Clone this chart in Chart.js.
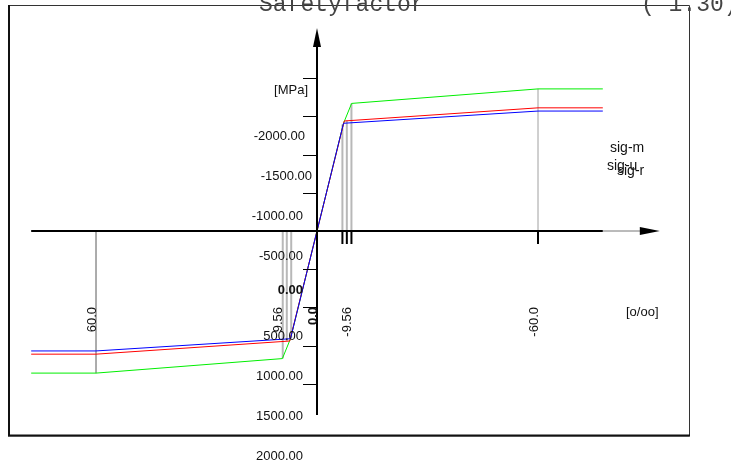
<!DOCTYPE html>
<html>
<head>
<meta charset="utf-8">
<script src="https://cdn.jsdelivr.net/npm/chart.js@4/dist/chart.umd.min.js"></script>
<style>
  html, body { margin: 0; padding: 0; background: #fff; }
  #c { display: block; }
</style>
</head>
<body>
<canvas id="c" width="731" height="466"></canvas>
<script>
// strain [o/oo] / stress [MPa]
var strain_blue = [-77.6, -60, -7.2, 0, 7.2, 60, 77.6];
var stress_blue = [-1570, -1570, -1410, 0, 1410, 1570, 1570];

var strain_red = [-77.6, -60, -7.4, 0, 7.4, 60, 77.6];
var stress_red = [-1612, -1612, -1440, 0, 1440, 1612, 1612];

var strain_green = [-77.6, -60, -9.4, -7.2, 0, 7.2, 9.4, 60, 77.6];
var stress_green = [-1860, -1860, -1670, -1410, 0, 1410, 1670, 1860, 1860];

// vertical helper lines at the knees and at +-60
var knee_strain = [-9.3, -8.2, -7.0, 6.9, 8.1, 9.35];
var knee_stress = [-1670, -1440, -1410, 1395, 1445, 1670];
var limit_strain = [-60, 60];
var limit_stress = [-1860, 1860];
var tick_down_strain = [6.9, 8.1, 9.35, 60];

var y_ticks = [-2000, -1500, -1000, -500, 500, 1000, 1500, 2000];
var y_labels = ['-2000.00', '-1500.00', '-1000.00', '-500.00', '0.00', '500.00', '1000.00', '1500.00', '2000.00'];
var x_label_strain = [-60, -9.3, 0, 9.35, 60];
var x_labels = ['60.0', '9.56', '0.0', '-9.56', '-60.0'];
var legend_names = ['sig-m', 'sig-u', 'sig-r'];

var W = 731, H = 466;
var ORIGIN_X = 317, ORIGIN_Y = 231;
var PX_PER_STRAIN = 221 / 60;
var PX_PER_MPA = 38.2 / 500;

function pts(xs, ys) {
  var out = [];
  for (var i = 0; i < xs.length; i++) out.push({x: xs[i], y: ys[i]});
  return out;
}

function curve(label, xs, ys, color) {
  return {
    label: label,
    data: pts(xs, ys),
    showLine: true,
    borderColor: color,
    borderWidth: 1,
    pointRadius: 0,
    fill: false
  };
}

var datasets = [
  curve('sig-r', strain_blue, stress_blue, '#0000ff'),
  curve('sig-u', strain_red, stress_red, '#ff0000'),
  curve('sig-m', strain_green, stress_green, '#00ee00')
];
for (var i = 0; i < knee_strain.length; i++) {
  datasets.push({
    data: pts([knee_strain[i], knee_strain[i]], [0, knee_stress[i]]),
    showLine: true, borderColor: '#b8b8b8', borderWidth: 2, pointRadius: 0
  });
}
for (var i = 0; i < limit_strain.length; i++) {
  datasets.push({
    data: pts([limit_strain[i], limit_strain[i]], [0, limit_stress[i]]),
    showLine: true, borderColor: '#a0a0a0', borderWidth: 1, pointRadius: 0
  });
}

var decor = {
  id: 'decor',
  afterDatasetsDraw: function(chart) {
    var ctx = chart.ctx;
    var xs = chart.scales.x, ys = chart.scales.y;
    var ox = xs.getPixelForValue(0), oy = ys.getPixelForValue(0);
    ctx.save();

    // frame
    ctx.strokeStyle = '#333';
    ctx.lineWidth = 1;
    ctx.beginPath();
    ctx.moveTo(8, 5.5); ctx.lineTo(689.5, 5.5); ctx.lineTo(689.5, 436); ctx.lineTo(8, 436);
    ctx.stroke();
    ctx.strokeStyle = '#111';
    ctx.lineWidth = 2;
    ctx.beginPath(); ctx.moveTo(9, 5); ctx.lineTo(9, 436); ctx.stroke();
    ctx.beginPath(); ctx.moveTo(8, 435.5); ctx.lineTo(690, 435.5); ctx.stroke();

    // title
    ctx.fillStyle = '#444';
    ctx.font = '23px "Liberation Mono", "DejaVu Sans Mono", monospace';
    ctx.textBaseline = 'alphabetic';
    ctx.textAlign = 'left';
    ctx.fillText('Safetyfactor', 259, 11);
    ctx.fillText('( 1.30)', 641, 11);

    // x axis
    var xl = xs.getPixelForValue(strain_blue[0]);
    var xr = xs.getPixelForValue(strain_blue[strain_blue.length - 1]);
    ctx.strokeStyle = '#000';
    ctx.lineWidth = 2;
    ctx.beginPath(); ctx.moveTo(xl, oy); ctx.lineTo(xr, oy); ctx.stroke();
    ctx.strokeStyle = '#777';
    ctx.lineWidth = 1;
    ctx.beginPath(); ctx.moveTo(xr, oy); ctx.lineTo(xr + 40, oy); ctx.stroke();
    ctx.fillStyle = '#000';
    ctx.beginPath();
    ctx.moveTo(xr + 37, oy - 4); ctx.lineTo(xr + 57, oy); ctx.lineTo(xr + 37, oy + 4);
    ctx.closePath(); ctx.fill();

    // ticks below the x axis
    ctx.strokeStyle = '#000';
    ctx.lineWidth = 2;
    tick_down_strain.forEach(function(v) {
      var px = xs.getPixelForValue(v);
      ctx.beginPath(); ctx.moveTo(px, oy); ctx.lineTo(px, oy + 13); ctx.stroke();
    });

    // y axis
    ctx.lineWidth = 2;
    ctx.beginPath(); ctx.moveTo(ox, 415); ctx.lineTo(ox, 44); ctx.stroke();
    ctx.beginPath();
    ctx.moveTo(ox - 4, 47); ctx.lineTo(ox, 28); ctx.lineTo(ox + 4, 47);
    ctx.closePath(); ctx.fill();
    ctx.lineWidth = 1;
    y_ticks.forEach(function(v) {
      var py = Math.round(ys.getPixelForValue(v)) + 0.5;
      ctx.beginPath(); ctx.moveTo(ox - 14, py); ctx.lineTo(ox, py); ctx.stroke();
    });

    // y labels
    ctx.fillStyle = '#111';
    ctx.textAlign = 'right';
    ctx.textBaseline = 'middle';
    ctx.font = '13px "Liberation Sans", Arial, sans-serif';
    ctx.fillText('[MPa]', ox - 9, oy - 141);
    y_labels.forEach(function(t, i) {
      var py = oy - 94.3 + i * 40;
      var px = ox - 14;
      if (i === 0) px = ox - 12;
      if (i === 1) px = ox - 5;
      if (t === '0.00') {
        ctx.font = 'bold 13px "Liberation Sans", Arial, sans-serif';
        py -= 6;
      } else {
        ctx.font = '13px "Liberation Sans", Arial, sans-serif';
      }
      ctx.fillText(t, px, py);
    });

    // rotated x labels
    x_labels.forEach(function(t, i) {
      var px = xs.getPixelForValue(x_label_strain[i]) - 4;
      ctx.save();
      ctx.translate(px, 307);
      ctx.rotate(-Math.PI / 2);
      ctx.textAlign = 'right';
      ctx.textBaseline = 'middle';
      ctx.font = (t === '0.0' ? 'bold ' : '') + '13px "Liberation Sans", Arial, sans-serif';
      ctx.fillText(t, 0, 0);
      ctx.restore();
    });

    // unit and curve names
    ctx.textAlign = 'left';
    ctx.textBaseline = 'middle';
    ctx.font = '13px "Liberation Sans", Arial, sans-serif';
    ctx.fillText('[o/oo]', 626, oy + 81);
    ctx.font = '14px "Liberation Sans", Arial, sans-serif';
    ctx.fillText(legend_names[0], 610, oy - 83);
    ctx.fillText(legend_names[1], 607, oy - 65);
    ctx.fillText(legend_names[2], 617, oy - 60);

    ctx.restore();
  }
};

var chart = new Chart(document.getElementById('c').getContext('2d'), {
  type: 'scatter',
  data: { datasets: datasets },
  options: {
    responsive: false,
    animation: false,
    devicePixelRatio: 1,
    layout: { padding: 0 },
    plugins: { legend: { display: false }, tooltip: { enabled: false } },
    scales: {
      x: { type: 'linear', display: false,
           min: -ORIGIN_X / PX_PER_STRAIN, max: (W - ORIGIN_X) / PX_PER_STRAIN },
      y: { type: 'linear', display: false,
           min: -(H - ORIGIN_Y) / PX_PER_MPA, max: ORIGIN_Y / PX_PER_MPA }
    }
  },
  plugins: [decor]
});
</script>
</body>
</html>
